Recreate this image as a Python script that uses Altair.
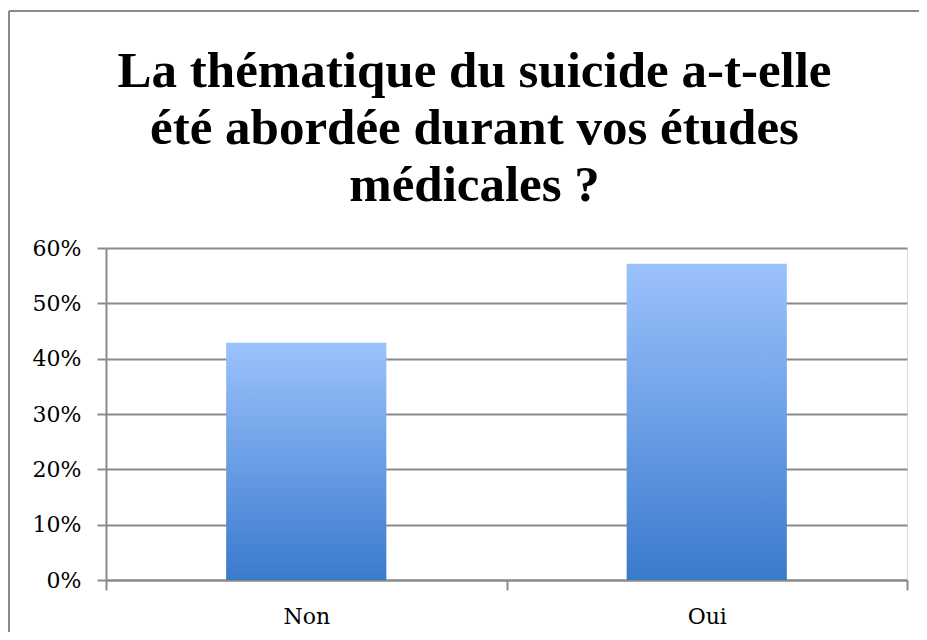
import altair as alt
import pandas as pd

categories = ["Non", "Oui"]
values = [0.4286, 0.5714]
y_ticks = [0.0, 0.1, 0.2, 0.3, 0.4, 0.5, 0.6]
title_lines = ["La thématique du suicide a-t-elle", "été abordée durant vos études", "médicales ?"]

df = pd.DataFrame({"reponse": categories, "part": values})

GRAY = "#8a8a8a"

bars = alt.Chart(df).mark_bar(
    width=alt.RelativeBandSize(0.4),
    color=alt.Gradient(
        gradient="linear",
        stops=[alt.GradientStop(color="#3A7ACD", offset=0),
               alt.GradientStop(color="#9CC2FD", offset=1)],
        x1=0, x2=0, y1=1, y2=0,
    ),
).encode(
    x=alt.X("reponse:N", sort=categories, title=None,
            scale=alt.Scale(paddingInner=0, paddingOuter=0),
            axis=alt.Axis(labelAngle=0, tickBand="extent", tickSize=10,
                          tickColor=GRAY, tickWidth=2, domainColor=GRAY, domainWidth=2,
                          labelFont="DejaVu Serif", labelFontSize=22, labelColor="#000",
                          labelPadding=16, grid=False)),
    y=alt.Y("part:Q", title=None,
            scale=alt.Scale(domain=[0, 0.6], nice=False),
            axis=alt.Axis(values=y_ticks, format=".0%", tickSize=9,
                          tickColor=GRAY, tickWidth=2, domainColor=GRAY, domainWidth=2,
                          grid=True, gridColor=GRAY, gridWidth=2,
                          labelFont="DejaVu Serif", labelFontSize=22, labelColor="#000",
                          labelPadding=16)),
)

frame_data = alt.Data(values=[{"k": 1}])
frame_left = alt.Chart(frame_data).mark_rule(color=GRAY, strokeWidth=2).encode(
    x=alt.value(-97), y=alt.value(-237), y2=alt.value(420)
)
frame_top = alt.Chart(frame_data).mark_rule(color=GRAY, strokeWidth=2).encode(
    x=alt.value(-97), x2=alt.value(830), y=alt.value(-237)
)

chart = alt.layer(bars, frame_left, frame_top).properties(
    width=801,
    height=332,
    autosize=alt.AutoSizeParams(type="none"),
    padding={"left": 98, "top": 240, "right": 12, "bottom": 52},
    title=alt.TitleParams(
        text=title_lines,
        font="Liberation Serif",
        fontSize=51,
        fontWeight="bold",
        color="#000",
        lineHeight=57,
        anchor="middle",
        dx=-32,
        offset=-202,
    ),
).configure_view(stroke=None).configure(background="white")

chart.save("out.html", embed_options={"renderer": "svg", "actions": False})
